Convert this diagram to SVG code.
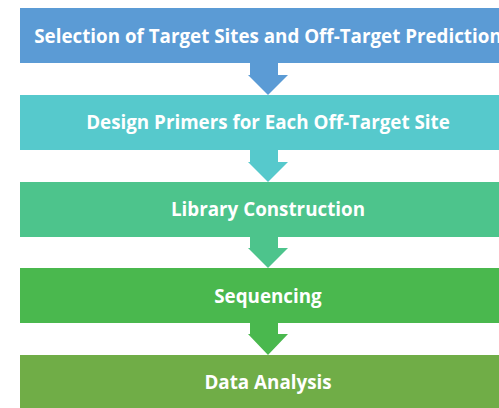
<svg xmlns="http://www.w3.org/2000/svg" width="499" height="408" viewBox="0 0 499 408">
<style>
.t{font-family:"Open Sans","Noto Sans","DejaVu Sans",sans-serif;font-weight:bold;font-size:18.8px;fill:#ffffff;text-anchor:middle;dominant-baseline:central}
</style>
<rect width="499" height="408" fill="#ffffff"/>
<g id="connectors">
<polygon points="250,63 278,63 278,75 288,75 268,95 248,75 250,75" fill="#5B9BD5"/>
<polygon points="250,150 278,150 278,162 288,162 268,182 248,162 250,162" fill="#56C9CC"/>
<polygon points="250,237 278,237 278,248 288,248 268,268 248,248 250,248" fill="#4DC48C"/>
<polygon points="250,323 278,323 278,334 288,334 268,355 248,334 250,334" fill="#4AB84E"/>
</g>
<g id="n1"><rect x="20" y="8" width="496" height="55" fill="#5B9BD5"/><text class="t" x="268" y="36">Selection of Target Sites and Off-Target Prediction</text></g>
<g id="n2"><rect x="20" y="95" width="496" height="55" fill="#56C9CC"/><text class="t" x="268" y="122">Design Primers for Each Off-Target Site</text></g>
<g id="n3"><rect x="20" y="182" width="496" height="55" fill="#4DC48C"/><text class="t" x="268" y="209">Library Construction</text></g>
<g id="n4"><rect x="20" y="268" width="496" height="55" fill="#4AB84E"/><text class="t" x="268" y="296">Sequencing</text></g>
<g id="n5"><rect x="20" y="355" width="496" height="60" fill="#70AD47"/><text class="t" x="268" y="382">Data Analysis</text></g>
</svg>
